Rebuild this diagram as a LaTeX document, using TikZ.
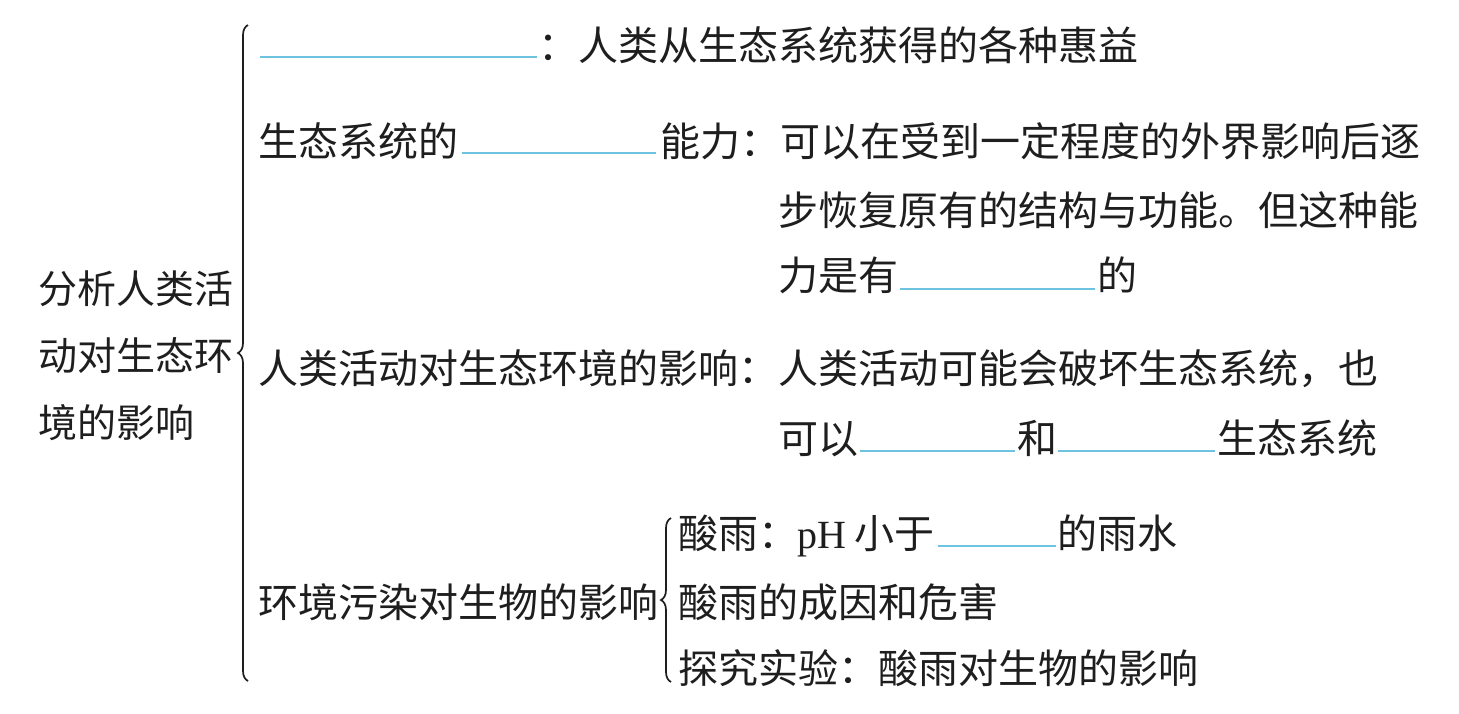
\documentclass[tikz,border=0pt]{standalone}
\usepackage{fontspec}
\setmainfont{Liberation Serif}
\newfontfamily\cjk{Noto Sans CJK SC}
\usetikzlibrary{decorations.pathreplacing}
\definecolor{ink}{RGB}{30,30,30}
\definecolor{blankc}{RGB}{110,195,225}
\tikzset{
  txt/.style={anchor=base west, inner sep=0pt, text=ink, font=\cjk\fontsize{40pt}{48pt}\selectfont},
  ltxt/.style={anchor=base west, inner sep=0pt, text=ink, font=\cjk\fontsize{39pt}{48pt}\selectfont},
  blankline/.style={draw=blankc, line width=1.5pt},
  bracel/.style={draw=ink, line width=1.7pt, decorate, decoration={brace, amplitude=10pt}}
}
\begin{document}
\begin{tikzpicture}[x=1pt, y=-1pt]
\useasboundingbox (0,0) rectangle (1459,713);
% left title
\node[ltxt] (l1) at (38,303) {分析人类活};
\node[ltxt] (l2) at (38,370) {动对生态环};
\node[ltxt] (l3) at (38,437) {境的影响};
% big brace
\coordinate (bb) at (248,681);
\coordinate (bt) at (248,25);
\draw[bracel] (bb) -- (bt);
% row 1
\coordinate (b1s) at (260,57);
\coordinate (b1e) at (537,57);
\draw[blankline] (b1s) -- (b1e);
\node[txt] (r1) at (538,60) {：人类从生态系统获得的各种惠益};
% row 2
\node[txt] (r2a) at (258,156) {生态系统的};
\coordinate (b2s) at (462,153);
\coordinate (b2e) at (656,153);
\draw[blankline] (b2s) -- (b2e);
\node[txt] (r2b) at (660,156) {能力：可以在受到一定程度的外界影响后逐};
\node[txt] (r2c) at (778,225) {步恢复原有的结构与功能。但这种能};
\node[txt] (r2d) at (778,290) {力是有};
\coordinate (b3s) at (900,289);
\coordinate (b3e) at (1095,289);
\draw[blankline] (b3s) -- (b3e);
\node[txt] (r2e) at (1097,290) {的};
% row 3
\node[txt] (r3a) at (258,383) {人类活动对生态环境的影响：人类活动可能会破坏生态系统，也};
\node[txt] (r3b) at (778,453) {可以};
\coordinate (b4s) at (860,451);
\coordinate (b4e) at (1015,451);
\draw[blankline] (b4s) -- (b4e);
\node[txt] (r3c) at (1017,453) {和};
\coordinate (b5s) at (1058,451);
\coordinate (b5e) at (1215,451);
\draw[blankline] (b5s) -- (b5e);
\node[txt] (r3d) at (1217,453) {生态系统};
% row 4
\node[txt] (r4) at (258,617) {环境污染对生物的影响};
\coordinate (sb) at (671,682);
\coordinate (st) at (671,518);
\draw[bracel] (sb) -- (st);
\node[txt] (a1) at (678,548) {酸雨：};
\node[txt] (a2) at (797,548) {{\rmfamily pH}\hspace{8pt}小于};
\coordinate (b6s) at (938,546);
\coordinate (b6e) at (1056,546);
\draw[blankline] (b6s) -- (b6e);
\node[txt] (a3) at (1057,548) {的雨水};
\node[txt] (a4) at (678,617) {酸雨的成因和危害};
\node[txt] (a5) at (678,683) {探究实验：酸雨对生物的影响};
\end{tikzpicture}
\end{document}
